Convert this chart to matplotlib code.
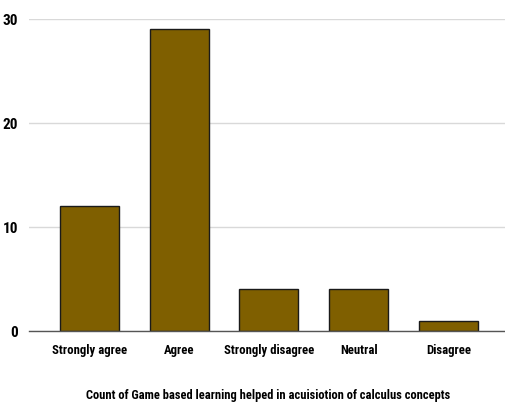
import matplotlib
matplotlib.use("Agg")
import matplotlib.pyplot as plt

categories = ["Strongly agree", "Agree", "Strongly disagree", "Neutral", "Disagree"]
counts = [12, 29, 4, 4, 1]
y_ticks = [0, 10, 20, 30]
x_title = "Count of Game based learning helped in acuisiotion of calculus concepts"

# narrow bold face for all labels, falling back to DejaVu if none is around
plt.rcParams["font.family"] = ["Liberation Sans Narrow", "Arial Narrow",
                               "Roboto Condensed", "Archivo Narrow", "DejaVu Sans"]

fig = plt.figure(figsize=(5.05, 4.06), dpi=100)
ax = fig.add_axes([0.0574, 0.1823, 0.9426, 0.7685])

x = range(len(categories))
ax.bar(x, counts, width=0.657, color="#7f5f00", edgecolor="#1a1a1a",
       linewidth=1.0, zorder=3)

ax.set_xlim(-0.674, 4.63)
ax.set_ylim(0, 30)
ax.set_yticks(y_ticks)
ax.set_yticklabels([str(t) for t in y_ticks], fontsize=11, fontweight="bold")
ax.set_xticks(list(x))
ax.set_xticklabels(categories, fontsize=9.2, fontweight="bold")
ax.tick_params(axis="x", length=0, pad=9)
ax.tick_params(axis="y", length=0, pad=8)

ax.grid(axis="y", color="#d9d9d9", linewidth=1.0, zorder=0)
for side in ("top", "right", "left"):
    ax.spines[side].set_visible(False)
ax.spines["bottom"].set_color("#555555")
ax.spines["bottom"].set_linewidth(1.0)
ax.spines["bottom"].set_zorder(4)

# axis title sits centred under the plot area, not the whole figure
fig.text(0.531, 0.025, x_title, ha="center", va="center",
         fontsize=9.0, fontweight="bold")

fig.savefig("out.png", dpi=100)
